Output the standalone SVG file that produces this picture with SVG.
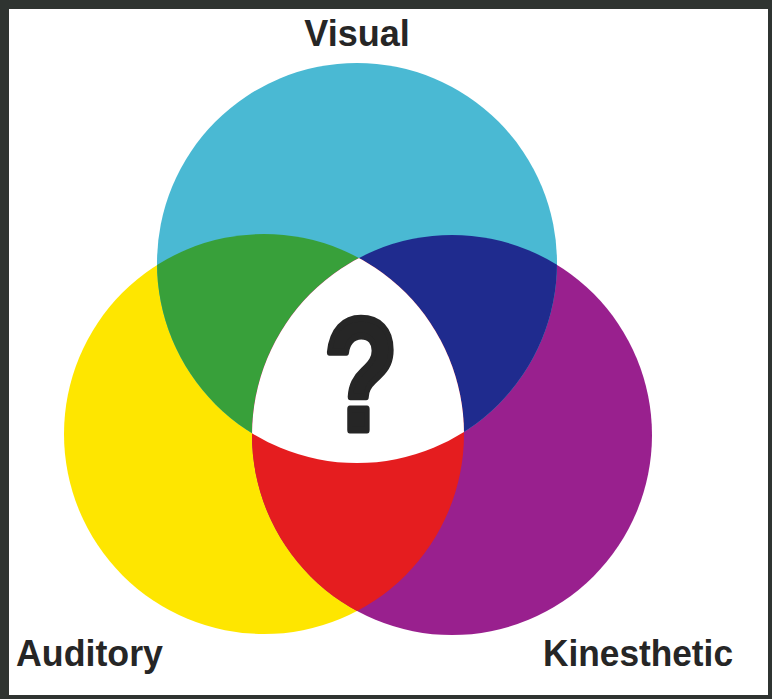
<svg xmlns="http://www.w3.org/2000/svg" width="772" height="699" viewBox="0 0 772 699">
  <style>
    .label { font-family: "Liberation Sans", Arial, sans-serif; font-weight: bold; font-size: 36px; fill: #262626; }
    .q { font-family: "Liberation Sans", Arial, sans-serif; font-weight: bold; font-size: 160px; fill: #262626; stroke: #262626; stroke-width: 7px; stroke-linejoin: round; }
  </style>
  <defs>
    <circle id="cV" cx="357" cy="263" r="200"/>
    <circle id="cA" cx="264" cy="434" r="200"/>
    <circle id="cK" cx="452" cy="435" r="200"/>
    <clipPath id="clipV"><use href="#cV"/></clipPath>
    <clipPath id="clipA"><use href="#cA"/></clipPath>
    <clipPath id="clipK"><use href="#cK"/></clipPath>
  </defs>

  <rect x="0" y="0" width="772" height="699" fill="#2f3431"/>
  <rect x="9" y="9" width="759" height="686" fill="#ffffff"/>

  <g id="auditory">
    <use href="#cA" fill="#fee600"/>
  </g>
  <g id="kinesthetic">
    <use href="#cK" fill="#99208e"/>
  </g>
  <g id="visual">
    <use href="#cV" fill="#4ab9d3"/>
  </g>
  <g id="visual-auditory">
    <use href="#cA" fill="#38a03a" clip-path="url(#clipV)"/>
  </g>
  <g id="visual-kinesthetic">
    <use href="#cK" fill="#1f2b8e" clip-path="url(#clipV)"/>
  </g>
  <g id="auditory-kinesthetic">
    <use href="#cK" fill="#e51d1f" clip-path="url(#clipA)"/>
  </g>
  <g id="center">
    <g clip-path="url(#clipK)">
      <use href="#cV" fill="#ffffff" clip-path="url(#clipA)"/>
    </g>
    <text class="q" x="361" y="430" text-anchor="middle" textLength="74" lengthAdjust="spacingAndGlyphs">?</text>
  </g>

  <g id="labels">
    <text class="label" x="357" y="46" text-anchor="middle">Visual</text>
    <text class="label" x="16" y="666" textLength="147" lengthAdjust="spacingAndGlyphs">Auditory</text>
    <text class="label" x="543" y="666" textLength="190" lengthAdjust="spacingAndGlyphs">Kinesthetic</text>
  </g>
</svg>
